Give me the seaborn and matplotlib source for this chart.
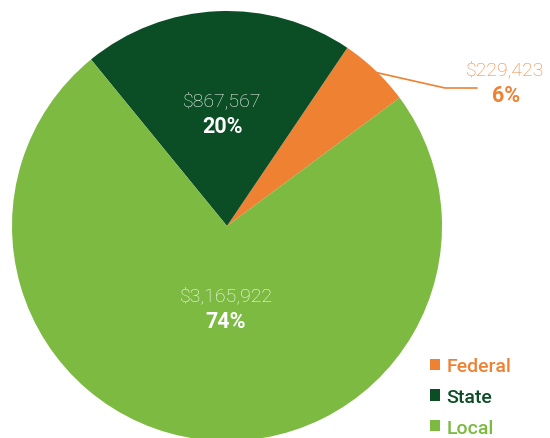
import numpy as np
import matplotlib
matplotlib.use("Agg")
import matplotlib.pyplot as plt
import seaborn as sns

# Funding sources
sources = ["Federal", "State", "Local"]
amounts = [229423, 867567, 3165922]
amount_labels = ["$229,423", "$867,567", "$3,165,922"]
pct_labels = ["6%", "20%", "74%"]
colors = ["#EF8133", "#0B4D25", "#7DBA41"]

sns.set_theme(style="white")
plt.rcParams["font.family"] = ["Roboto", "DejaVu Sans"]

fig = plt.figure(figsize=(5.5, 4.39), dpi=100)
ax = fig.add_axes([0, 0, 1, 1])

cx, cy, r = 227, 212, 215
wedges, _ = ax.pie(amounts, colors=colors, startangle=36.6, counterclock=True,
                   center=(cx, cy), radius=r, frame=True,
                   wedgeprops=dict(linewidth=0))
ax.set_xlim(0, 550)
ax.set_ylim(0, 439)
ax.set_aspect("equal")
ax.axis("off")

# inner labels for State and Local
inner_pos = {1: (222, 439 - 101), 2: (226, 439 - 296)}
for i, (x, y) in inner_pos.items():
    ax.text(x, y, amount_labels[i], color="white", fontsize=14,
            fontweight="light", ha="center", va="center")
    ax.text(x, y - 26, pct_labels[i], color="white", fontsize=15.5,
            fontweight="bold", ha="center", va="center")

# Federal label with leader line
w = wedges[0]
mid = np.deg2rad((w.theta1 + w.theta2) / 2)
sx, sy = cx + (r - 2) * np.cos(mid), cy + (r - 2) * np.sin(mid)
ax.plot([sx, 445, 477], [sy, 439 - 89, 439 - 89], color=colors[0], lw=1.2)
ax.text(505, 439 - 70, amount_labels[0], color=colors[0], fontsize=14,
        fontweight="light", ha="center", va="center")
ax.text(506, 439 - 96, pct_labels[0], color=colors[0], fontsize=15.5,
        fontweight="bold", ha="center", va="center")

leg = ax.legend(wedges, sources, loc="lower left", bbox_to_anchor=(0.75, -0.037),
                frameon=False, labelcolor=colors, handlelength=0.5,
                handleheight=0.5, handletextpad=0.35, labelspacing=0.66,
                prop=dict(size=14, weight="medium"))

fig.savefig("out.png", dpi=100)
